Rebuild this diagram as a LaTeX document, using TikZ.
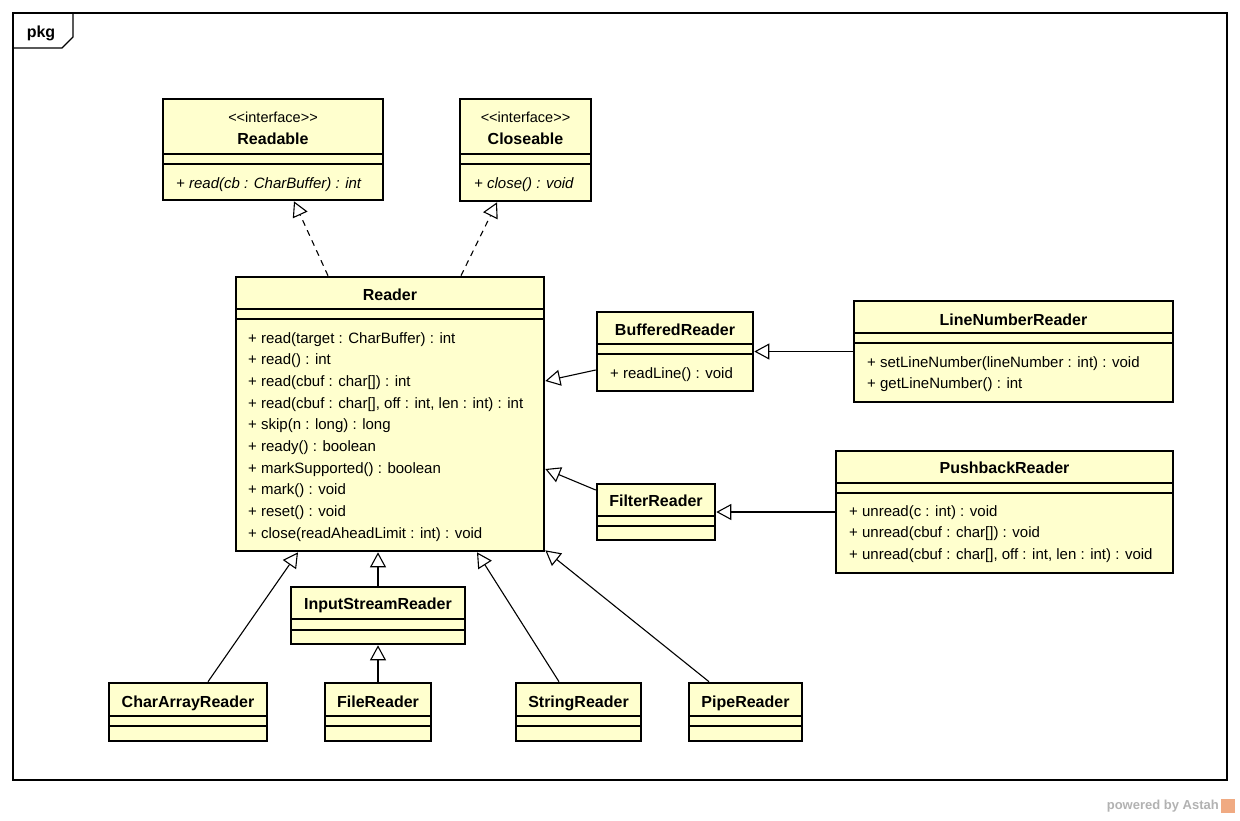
\documentclass[tikz,border=0pt]{standalone}
\usepackage{fontspec}
\setmainfont{Liberation Sans}
\usetikzlibrary{arrows.meta}
\definecolor{clsfill}{RGB}{255,255,206}
\definecolor{astahgray}{RGB}{178,178,178}
\definecolor{astahorange}{RGB}{240,170,130}

\begin{document}
\begin{tikzpicture}[x=1pt, y=-1pt,
    cls/.style={draw, line width=2.6pt, fill=clsfill, inner sep=0pt},
    sep/.style={line width=1.3pt},
    clsname/.style={font=\fontsize{16}{19}\selectfont\bfseries, anchor=base, inner sep=0pt},
    stereo/.style={font=\fontsize{14.5}{17}\selectfont, anchor=base, inner sep=0pt},
    ops/.style={font=\fontsize{15}{21.7}\selectfont, anchor=base west, align=left, inner sep=0pt},
    iops/.style={ops, font=\fontsize{15}{21.7}\selectfont\itshape},
    inherit/.style={line width=1.1pt, -{Triangle[open, length=15pt, width=16pt]}},
    realize/.style={inherit, dash pattern=on 6pt off 5pt}]
    % 1. Khung pkg
    \useasboundingbox (0,0) rectangle (1240,820);
    \fill[white] (0,0) rectangle (1240,820);
    \draw[line width=1.2pt] (13,13) rectangle (1227,780);
    \draw[line width=1.2pt] (13,48) -- (62,48) -- (73,37) -- (73,13);
    \node[clsname] (pkg) at (41,37) {pkg};

    % 2. Hai interface
    \node[cls, minimum width=220, minimum height=101] (readable) at (273,149.5) {};
    \node[stereo] (readable-st) at (273,122) {{<}{<}interface{>}{>}};
    \node[clsname] (readable-name) at (273,144) {Readable};
    \draw[sep] (163,154) -- (383,154);
    \draw[sep] (163,164) -- (383,164);
    \node[iops] (readable-ops) at (176,188) {+ read(cb : CharBuffer) : int};

    \node[cls, minimum width=131, minimum height=102] (closeable) at (525.5,150) {};
    \node[stereo] (closeable-st) at (525.5,122) {{<}{<}interface{>}{>}};
    \node[clsname] (closeable-name) at (525.5,144) {Closeable};
    \draw[sep] (460,154) -- (591,154);
    \draw[sep] (460,164) -- (591,164);
    \node[iops] (closeable-ops) at (474,188) {+ close() : void};

    % 3. Lớp Reader (mốc base = dòng cuối)
    \node[cls, minimum width=308, minimum height=274] (reader) at (390,414) {};
    \node[clsname] (reader-name) at (390,300) {Reader};
    \draw[sep] (236,309) -- (544,309);
    \draw[sep] (236,319) -- (544,319);
    \node[ops] (reader-ops) at (248,538.3) {+ read(target : CharBuffer) : int\\
        + read() : int\\
        + read(cbuf : char[]) : int\\
        + read(cbuf : char[], off : int, len : int) : int\\
        + skip(n : long) : long\\
        + ready() : boolean\\
        + markSupported() : boolean\\
        + mark() : void\\
        + reset() : void\\
        + close(readAheadLimit : int) : void};

    % 4. Nhánh bên phải
    \node[cls, minimum width=156, minimum height=79] (buffered) at (675,351.5) {};
    \node[clsname] (buffered-name) at (675,335) {BufferedReader};
    \draw[sep] (597,344) -- (753,344);
    \draw[sep] (597,354) -- (753,354);
    \node[ops] (buffered-ops) at (610,378) {+ readLine() : void};

    \node[cls, minimum width=319, minimum height=101] (linenumber) at (1013.5,351.5) {};
    \node[clsname] (linenumber-name) at (1013.5,325) {LineNumberReader};
    \draw[sep] (854,333) -- (1173,333);
    \draw[sep] (854,343) -- (1173,343);
    \node[ops] (linenumber-ops) at (867,388.7) {+ setLineNumber(lineNumber : int) : void\\
        + getLineNumber() : int};

    \node[cls, minimum width=118, minimum height=56] (filter) at (656,512) {};
    \node[clsname] (filter-name) at (656,506) {FilterReader};
    \draw[sep] (597,516) -- (715,516);
    \draw[sep] (597,526) -- (715,526);

    \node[cls, minimum width=337, minimum height=122] (pushback) at (1004.5,512) {};
    \node[clsname] (pushback-name) at (1004.5,473) {PushbackReader};
    \draw[sep] (836,483) -- (1173,483);
    \draw[sep] (836,493) -- (1173,493);
    \node[ops] (pushback-ops) at (849,559.4) {+ unread(c : int) : void\\
        + unread(cbuf : char[]) : void\\
        + unread(cbuf : char[], off : int, len : int) : void};

    % 5. Nhánh bên dưới
    \node[cls, minimum width=174, minimum height=57] (inputstream) at (378,615.5) {};
    \node[clsname] (inputstream-name) at (378,609) {InputStreamReader};
    \draw[sep] (291,619) -- (465,619);
    \draw[sep] (291,630) -- (465,630);

    \node[cls, minimum width=158, minimum height=58] (chararray) at (188,712) {};
    \node[clsname] (chararray-name) at (188,707) {CharArrayReader};
    \draw[sep] (109,716) -- (267,716);
    \draw[sep] (109,726) -- (267,726);

    \node[cls, minimum width=106, minimum height=58] (file) at (378,712) {};
    \node[clsname] (file-name) at (378,707) {FileReader};
    \draw[sep] (325,716) -- (431,716);
    \draw[sep] (325,726) -- (431,726);

    \node[cls, minimum width=125, minimum height=58] (string) at (578.5,712) {};
    \node[clsname] (string-name) at (578.5,707) {StringReader};
    \draw[sep] (516,716) -- (641,716);
    \draw[sep] (516,726) -- (641,726);

    \node[cls, minimum width=113, minimum height=58] (pipe) at (745.5,712) {};
    \node[clsname] (pipe-name) at (745.5,707) {PipeReader};
    \draw[sep] (689,716) -- (802,716);
    \draw[sep] (689,726) -- (802,726);

    % 6. Quan hệ kế thừa / hiện thực
    \draw[realize] ([xshift=-62]reader.north) -- ([xshift=21]readable.south);
    \draw[realize] ([xshift=71]reader.north) -- ([xshift=-28.5]closeable.south);
    \draw[inherit] ([yshift=-18.5]buffered.west) -- ([yshift=33]reader.east);
    \draw[inherit] ([yshift=22]filter.west) -- ([yshift=-55]reader.east);
    \draw[inherit] (linenumber.west) -- (buffered.east);
    \draw[inherit] (pushback.west) -- (filter.east);
    \draw[inherit] ([xshift=20]chararray.north) -- ([xshift=-92]reader.south);
    \draw[inherit] (inputstream.north) -- (inputstream.north |- reader.south);
    \draw[inherit] (file.north) -- (inputstream.south);
    \draw[inherit] ([xshift=-19.5]string.north) -- ([xshift=87]reader.south);
    \draw[inherit] ([xshift=-36.5]pipe.north) -- ([yshift=2]reader.south east);

    % 7. Chữ Astah
    \node[font=\fontsize{13}{15}\selectfont\bfseries, text=astahgray, anchor=east, inner sep=0pt] (astah) at (1219,806) {powered by Astah};
    \fill[astahorange] (1221,799) rectangle (1235,813);
\end{tikzpicture}
\end{document}
